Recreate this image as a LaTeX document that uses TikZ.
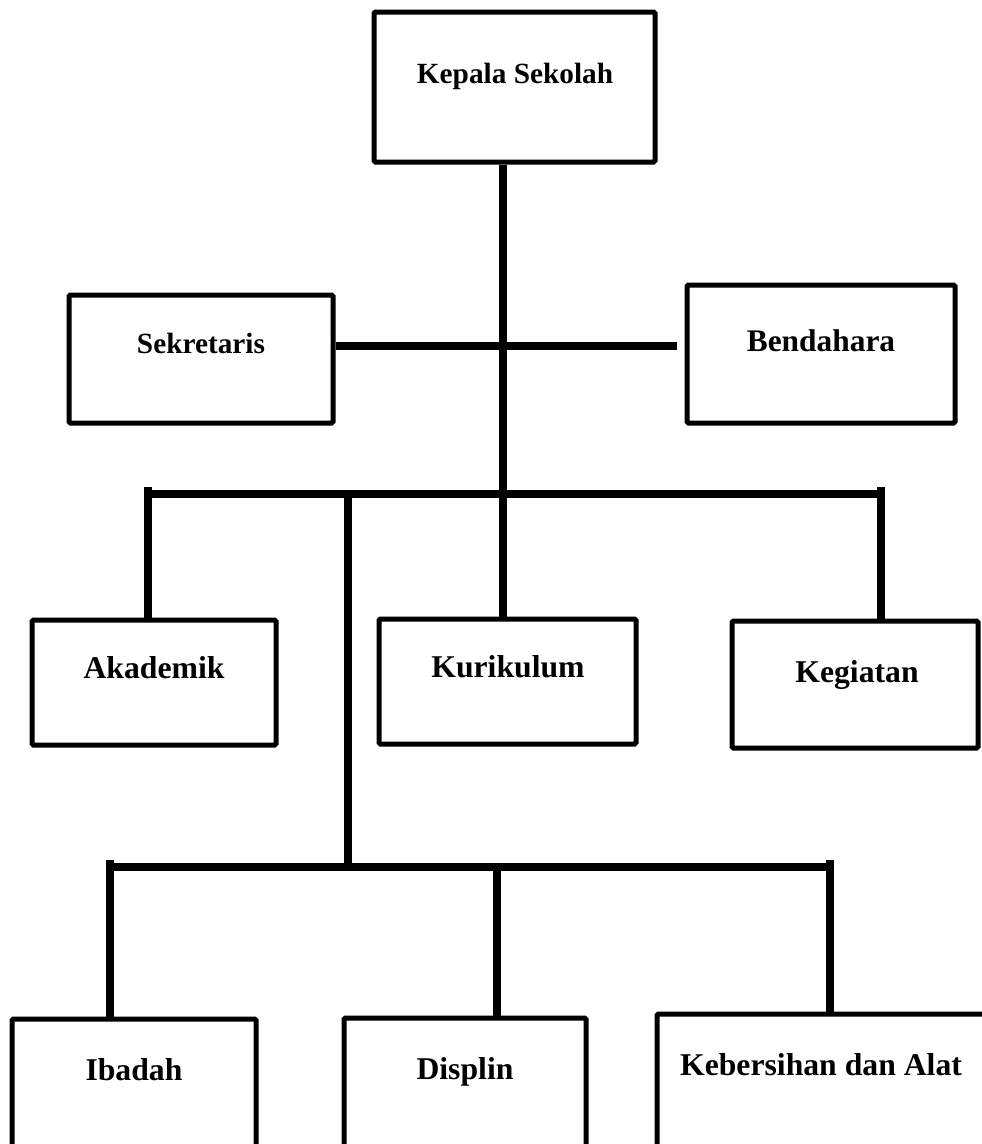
\documentclass[tikz,border=0pt]{standalone}
\usepackage{fontspec}
\setmainfont{Liberation Serif}
\begin{document}
\begin{tikzpicture}[x=1pt,y=-1pt,
  box/.style={draw=black, line width=5pt, rounded corners=1.5pt, fill=white, inner sep=0pt},
  conn/.style={draw=black, line width=8pt},
  lbl/.style={anchor=base, inner sep=0pt, font=\fontsize{31.7}{38}\selectfont\bfseries},
  lbls/.style={lbl, font=\fontsize{29.3}{35}\selectfont\bfseries}]
\useasboundingbox (0,0) rectangle (982,1144);
\clip (0,0) rectangle (982,1144);
% boxes
\node[box, minimum width=281pt, minimum height=150pt] (kep) at (514.5,87) {};
\node[box, minimum width=264pt, minimum height=128pt] (sek) at (201,359) {};
\node[box, minimum width=268pt, minimum height=138pt] (ben) at (821,354) {};
\node[box, minimum width=244pt, minimum height=125pt] (aka) at (154,682.5) {};
\node[box, minimum width=257pt, minimum height=125pt] (kur) at (507.5,681.5) {};
\node[box, minimum width=246pt, minimum height=127pt] (keg) at (855,684.5) {};
\node[box, minimum width=244pt, minimum height=231pt] (iba) at (134,1134.5) {};
\node[box, minimum width=242pt, minimum height=232pt] (dis) at (465,1134) {};
\node[box, minimum width=352pt, minimum height=236pt] (keb) at (833,1132) {};
% labels
\node[lbls] (tkep) at (515,83) {Kepala Sekolah};
\node[lbls] (tsek) at (201,353) {Sekretaris};
\node[lbl, font=\fontsize{31.4}{38}\selectfont\bfseries] (tben) at (821,351) {Bendahara};
\node[lbl] (taka) at (154,678) {Akademik};
\node[lbl] (tkur) at (508,677) {Kurikulum};
\node[lbl] (tkeg) at (857,682) {Kegiatan};
\node[lbl] (tiba) at (134,1080) {Ibadah};
\node[lbl] (tdis) at (465,1079) {Displin};
\node[lbl] (tkeb) at (821,1075) {Kebersihan dan Alat};
% junction coordinates
\coordinate (sp) at (503,165);
\coordinate (hR) at (677,346);
\coordinate (barL) at (144,494);
\coordinate (barR) at (885,494);
\coordinate (dL) at (148,487);
\coordinate (dR) at (881,487);
\coordinate (ms) at (348,494);
\coordinate (ms2) at (348,867);
\coordinate (bL) at (106,867);
\coordinate (bR) at (834,867);
\coordinate (eL) at (110,860);
\coordinate (eM) at (497,867);
\coordinate (eR) at (830,860);
% connectors
\draw[conn] (sp) -- (sp |- kur.north);
\draw[conn] (sek.east |- hR) -- (hR);
\draw[conn] (barL) -- (barR);
\draw[conn] (dL) -- (dL |- aka.north);
\draw[conn] (dR) -- (dR |- keg.north);
\draw[conn] (ms) -- (ms2);
\draw[conn] (bL) -- (bR);
\draw[conn] (eL) -- (eL |- iba.north);
\draw[conn] (eM) -- (eM |- dis.north);
\draw[conn] (eR) -- (eR |- keb.north);
\end{tikzpicture}
\end{document}
